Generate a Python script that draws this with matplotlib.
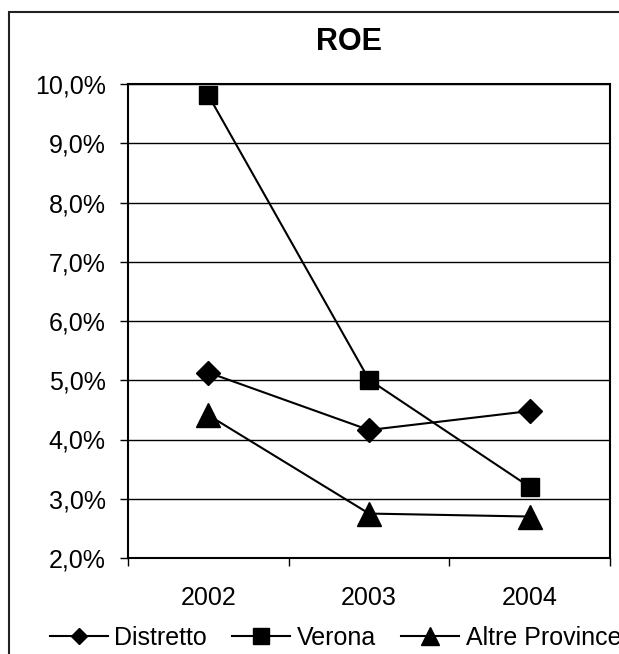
import matplotlib
matplotlib.use('Agg')
import matplotlib.pyplot as plt
from matplotlib.lines import Line2D
from matplotlib.patches import Rectangle
from matplotlib.ticker import FuncFormatter

plt.rcParams['font.family'] = ['Liberation Sans', 'DejaVu Sans']

# Data (ROE, %)
years = ['2002', '2003', '2004']
distretto = [5.13, 4.16, 4.48]
verona = [9.81, 5.01, 3.20]
altre = [4.41, 2.75, 2.70]
y_ticks = [2, 3, 4, 5, 6, 7, 8, 9, 10]

W, H = 619, 654
fig = plt.figure(figsize=(W / 100, H / 100), dpi=100)
ax = fig.add_axes([128 / W, 96 / H, 482 / W, 474 / H])

x = list(range(len(years)))
ax.plot(x, distretto, color='black', lw=1.5, marker='D', ms=12.7, zorder=3)
ax.plot(x, verona, color='black', lw=1.5, marker='s', ms=13, zorder=3)
ax.plot(x, altre, color='black', lw=1.5, marker='^', ms=17, zorder=3)

ax.set_xlim(-0.5, len(years) - 0.5)
ax.set_ylim(2, 10)
ax.set_yticks(y_ticks)
ax.yaxis.set_major_formatter(FuncFormatter(lambda v, p: f'{v:.1f}%'.replace('.', ',')))
ax.tick_params(axis='y', direction='out', length=6, width=1, pad=10, labelsize=18)

# category labels in the middle, tick marks at the boundaries
ax.set_xticks([i - 0.5 for i in range(len(years) + 1)])
ax.set_xticklabels([])
ax.set_xticks(x, minor=True)
ax.set_xticklabels(years, minor=True)
ax.tick_params(axis='x', which='major', direction='out', length=6, width=1)
ax.tick_params(axis='x', which='minor', length=0, pad=20, labelsize=18)

ax.grid(axis='y', color='black', lw=1)
for s in ax.spines.values():
    s.set_linewidth(1.5)
    s.set_color('black')

fig.text(349 / W, 1 - 42 / H, 'ROE', ha='center', va='center', fontsize=22, fontweight='bold')

handles = [
    Line2D([], [], color='black', lw=1.5, marker='D', ms=8.5),
    Line2D([], [], color='black', lw=1.5, marker='s', ms=11),
    Line2D([], [], color='black', lw=1.5, marker='^', ms=13),
]
fig.legend(handles, ['Distretto', 'Verona', 'Altre Province'], loc='center left',
           bbox_to_anchor=(50 / W, 1 - 638 / H), ncol=3, frameon=False, fontsize=18,
           handlelength=2.3, handletextpad=0.28, columnspacing=1.0,
           borderpad=0, borderaxespad=0)

# outer chart border (cut off at right and bottom, as in the source chart)
fig.add_artist(Rectangle((9 / W, -0.1), 1.2, 1.1 - 12 / H, transform=fig.transFigure,
                         fill=False, lw=1.5, edgecolor='#222222'))

fig.savefig('out.png', dpi=100)
